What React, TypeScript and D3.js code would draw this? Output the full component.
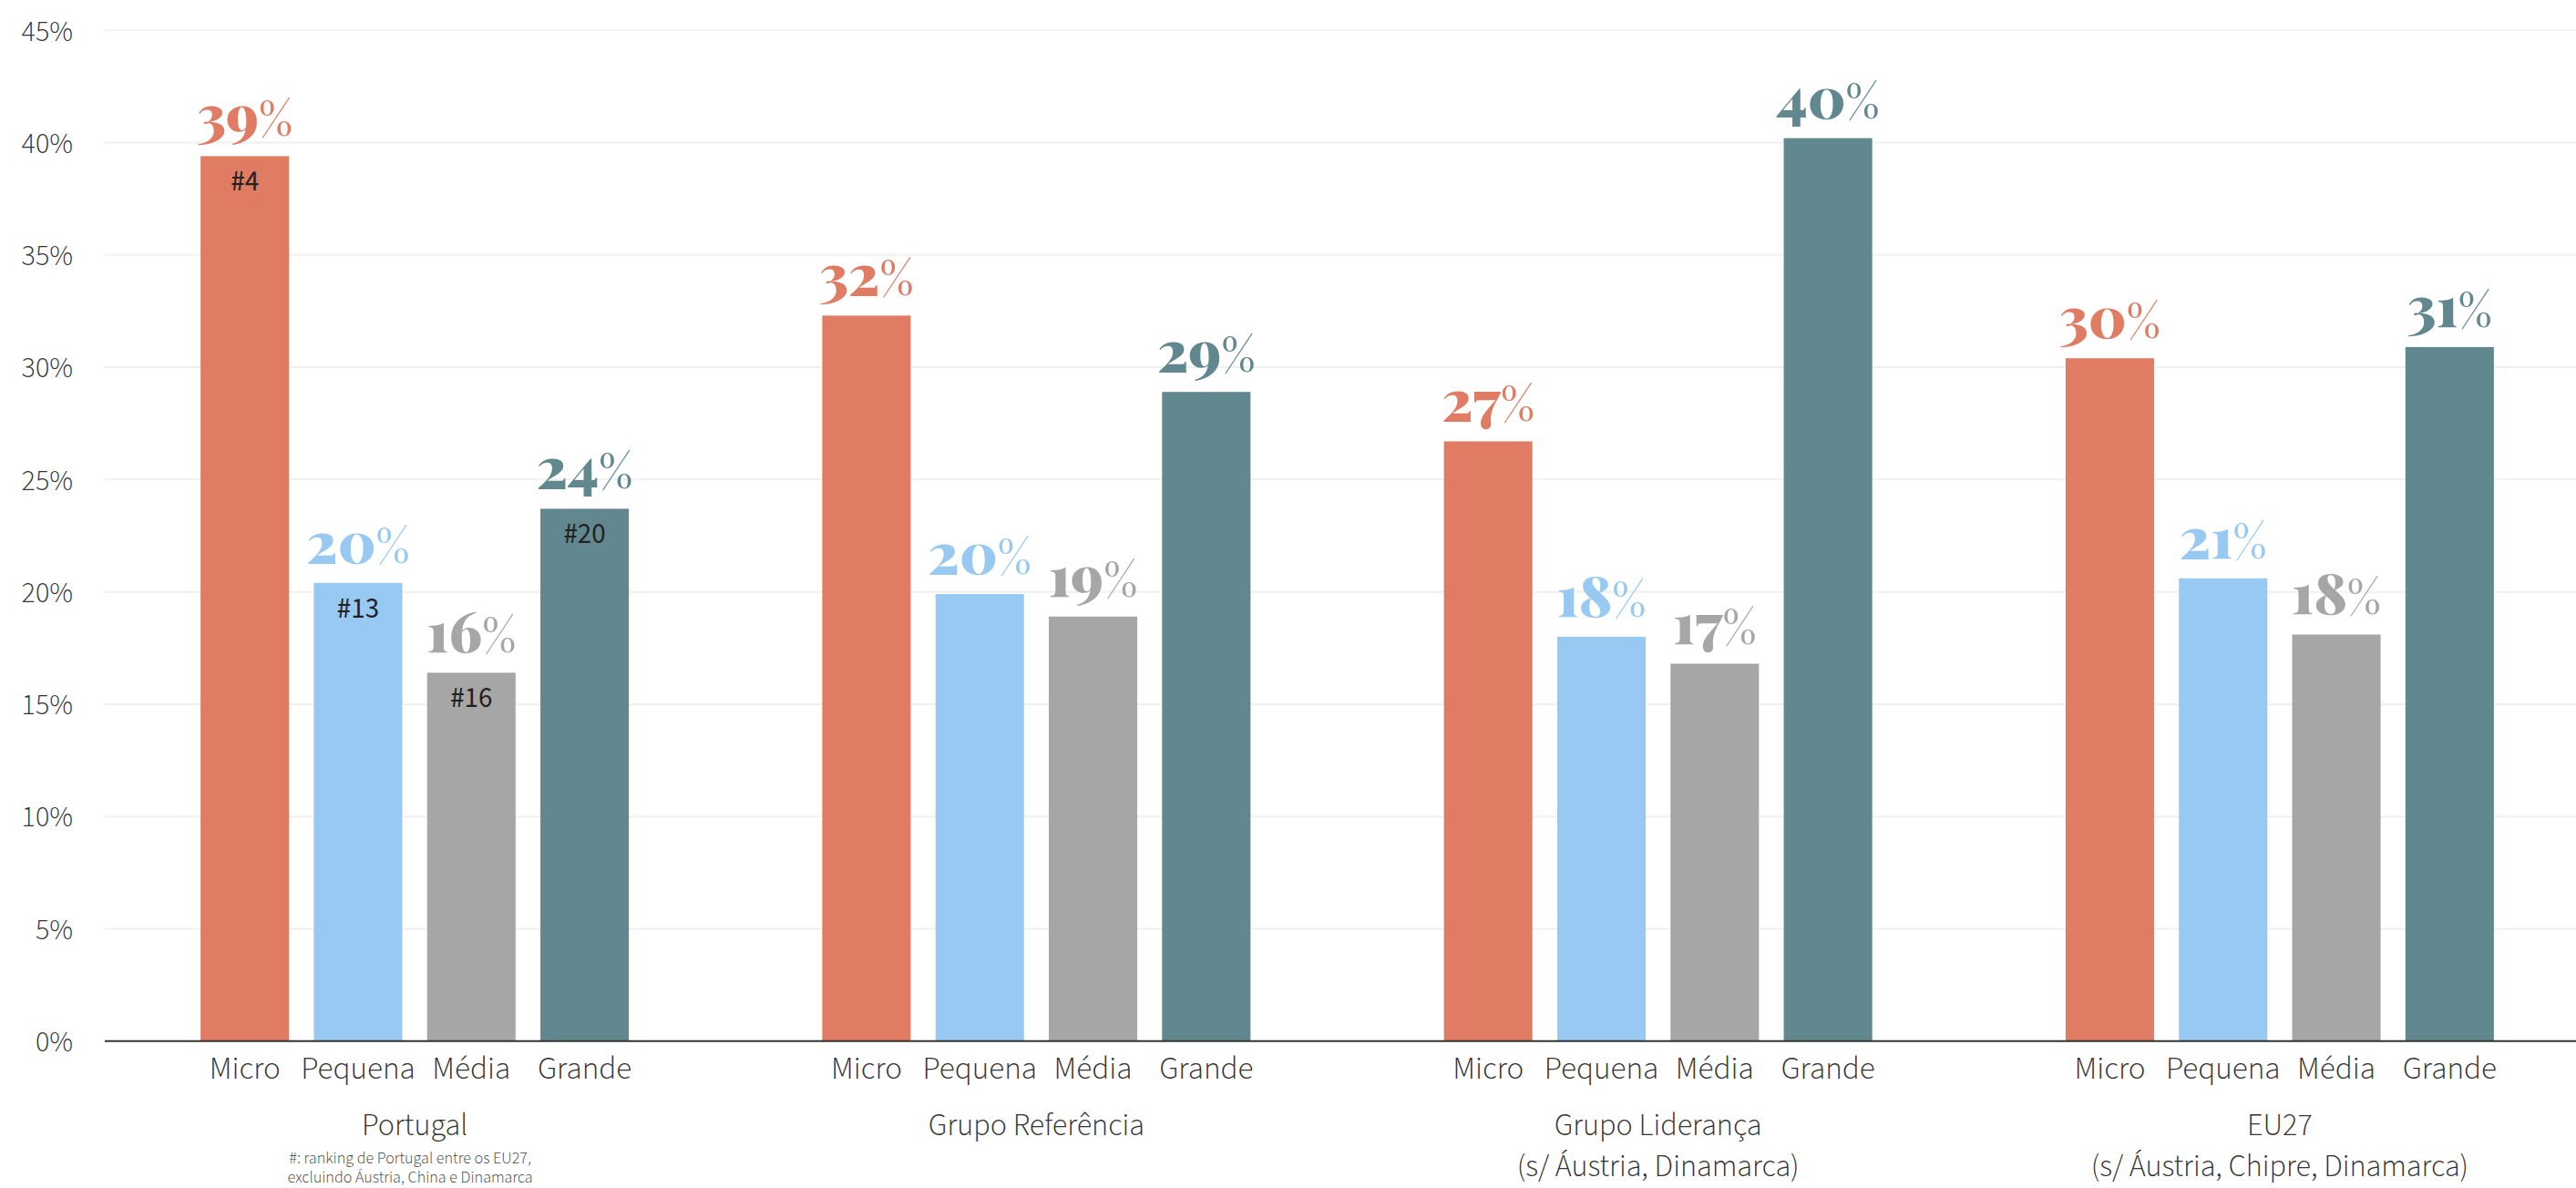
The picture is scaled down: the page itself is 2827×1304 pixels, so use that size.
import React from "react";
import * as d3 from "d3";

const groups = ["Portugal", "Grupo Referência", "Grupo Liderança", "EU27"];
const groupSubtitles = ["", "", "(s/ Áustria, Dinamarca)", "(s/ Áustria, Chipre, Dinamarca)"];
const sizes = ["Micro", "Pequena", "Média", "Grande"];
const microValues = [39.4, 32.3, 26.7, 30.4];
const pequenaValues = [20.4, 19.9, 18.0, 20.6];
const mediaValues = [16.4, 18.9, 16.8, 18.1];
const grandeValues = [23.7, 28.9, 40.2, 30.9];
const portugalRanking = ["#4", "#13", "#16", "#20"];
const yTicks = [0, 5, 10, 15, 20, 25, 30, 35, 40, 45];
const footnoteLines = ["#: ranking de Portugal entre os EU27,", "excluindo Áustria, China e Dinamarca"];
const sizeColors = ["#e07b64", "#98c9f2", "#a6a6a6", "#62888f"];

const W = 2827;
const H = 1304;
const plotLeft = 115;
const sansFont = "'Source Sans Pro', 'Source Sans 3', 'Noto Sans', 'Open Sans', sans-serif";
const serifFont = "'Playfair Display', 'Liberation Serif', 'DejaVu Serif', serif";

export default function App() {
  const seriesValues = [microValues, pequenaValues, mediaValues, grandeValues];
  const y = d3.scaleLinear().domain([0, 45]).range([1142.7, 33.3]);
  const x0 = d3.scaleBand<string>().domain(groups).range([114, 2843]).paddingInner(0).paddingOuter(0);
  const innerW = 470;
  const x1 = d3
    .scaleBand<string>()
    .domain(sizes)
    .range([-innerW / 2, innerW / 2])
    .paddingInner(0.219)
    .paddingOuter(0);

  const bars: any[] = [];
  groups.forEach((g, gi) => {
    const cx = (x0(g) as number) + x0.bandwidth() / 2;
    sizes.forEach((s, si) => {
      const v = seriesValues[si][gi];
      bars.push({ g, gi, s, si, v, x: cx + (x1(s) as number), w: x1.bandwidth(), cx });
    });
  });

  return (
    <svg
      width={W}
      height={H}
      style={{ position: "absolute", left: 0, top: 0, background: "#fff" }}
    >
      {yTicks.map((t) => (
        <g key={"t" + t}>
          {t > 0 && (
            <line x1={plotLeft} x2={W} y1={y(t)} y2={y(t)} stroke="#f0f0f0" strokeWidth={2} />
          )}
          <text
            x={80}
            y={y(t)}
            dy="0.35em"
            textAnchor="end"
            fontFamily={sansFont}
            fontWeight={300}
            fontSize={32}
            fill="#333"
          >
            {t + "%"}
          </text>
        </g>
      ))}

      {bars.map((b) => (
        <rect
          key={b.g + b.s}
          x={b.x}
          y={y(b.v)}
          width={b.w}
          height={y(0) - y(b.v)}
          fill={sizeColors[b.si]}
        />
      ))}

      {bars.map((b) => (
        <text
          key={"v" + b.g + b.s}
          x={b.x + b.w / 2}
          y={y(b.v) - 22}
          textAnchor="middle"
          fontFamily={serifFont}
          fontSize={62}
          fill={sizeColors[b.si]}
        >
          <tspan fontWeight={900}>{Math.round(b.v)}</tspan>
          <tspan fontWeight={400} fontSize={50}>%</tspan>
        </text>
      ))}

      {bars
        .filter((b) => b.gi === 0)
        .map((b) => (
          <text
            key={"r" + b.s}
            x={b.x + b.w / 2}
            y={y(b.v) + 38}
            textAnchor="middle"
            fontFamily={sansFont}
            fontSize={31}
            fill="#222"
          >
            {portugalRanking[b.si]}
          </text>
        ))}

      <line x1={plotLeft} x2={W} y1={y(0)} y2={y(0)} stroke="#333" strokeWidth={2} />

      {bars.map((b) => (
        <text
          key={"c" + b.g + b.s}
          x={b.x + b.w / 2}
          y={1184}
          textAnchor="middle"
          fontFamily={sansFont}
          fontWeight={300}
          fontSize={35}
          fill="#333"
        >
          {b.s}
        </text>
      ))}

      {groups.map((g, gi) => {
        const cx = (x0(g) as number) + x0.bandwidth() / 2;
        return (
          <g key={"g" + g}>
            <text
              x={cx}
              y={1246}
              textAnchor="middle"
              fontFamily={sansFont}
              fontWeight={300}
              fontSize={34}
              fill="#333"
            >
              {g}
            </text>
            {groupSubtitles[gi] && (
              <text
                x={cx}
                y={1291}
                textAnchor="middle"
                fontFamily={sansFont}
                fontWeight={300}
                fontSize={34}
                fill="#333"
              >
                {groupSubtitles[gi]}
              </text>
            )}
          </g>
        );
      })}

      {footnoteLines.map((l, i) => (
        <text
          key={"f" + i}
          x={(x0(groups[0]) as number) + x0.bandwidth() / 2 - 5}
          y={1277 + i * 21}
          textAnchor="middle"
          fontFamily={sansFont}
          fontWeight={300}
          fontSize={18}
          fill="#444"
        >
          {l}
        </text>
      ))}
    </svg>
  );
}
